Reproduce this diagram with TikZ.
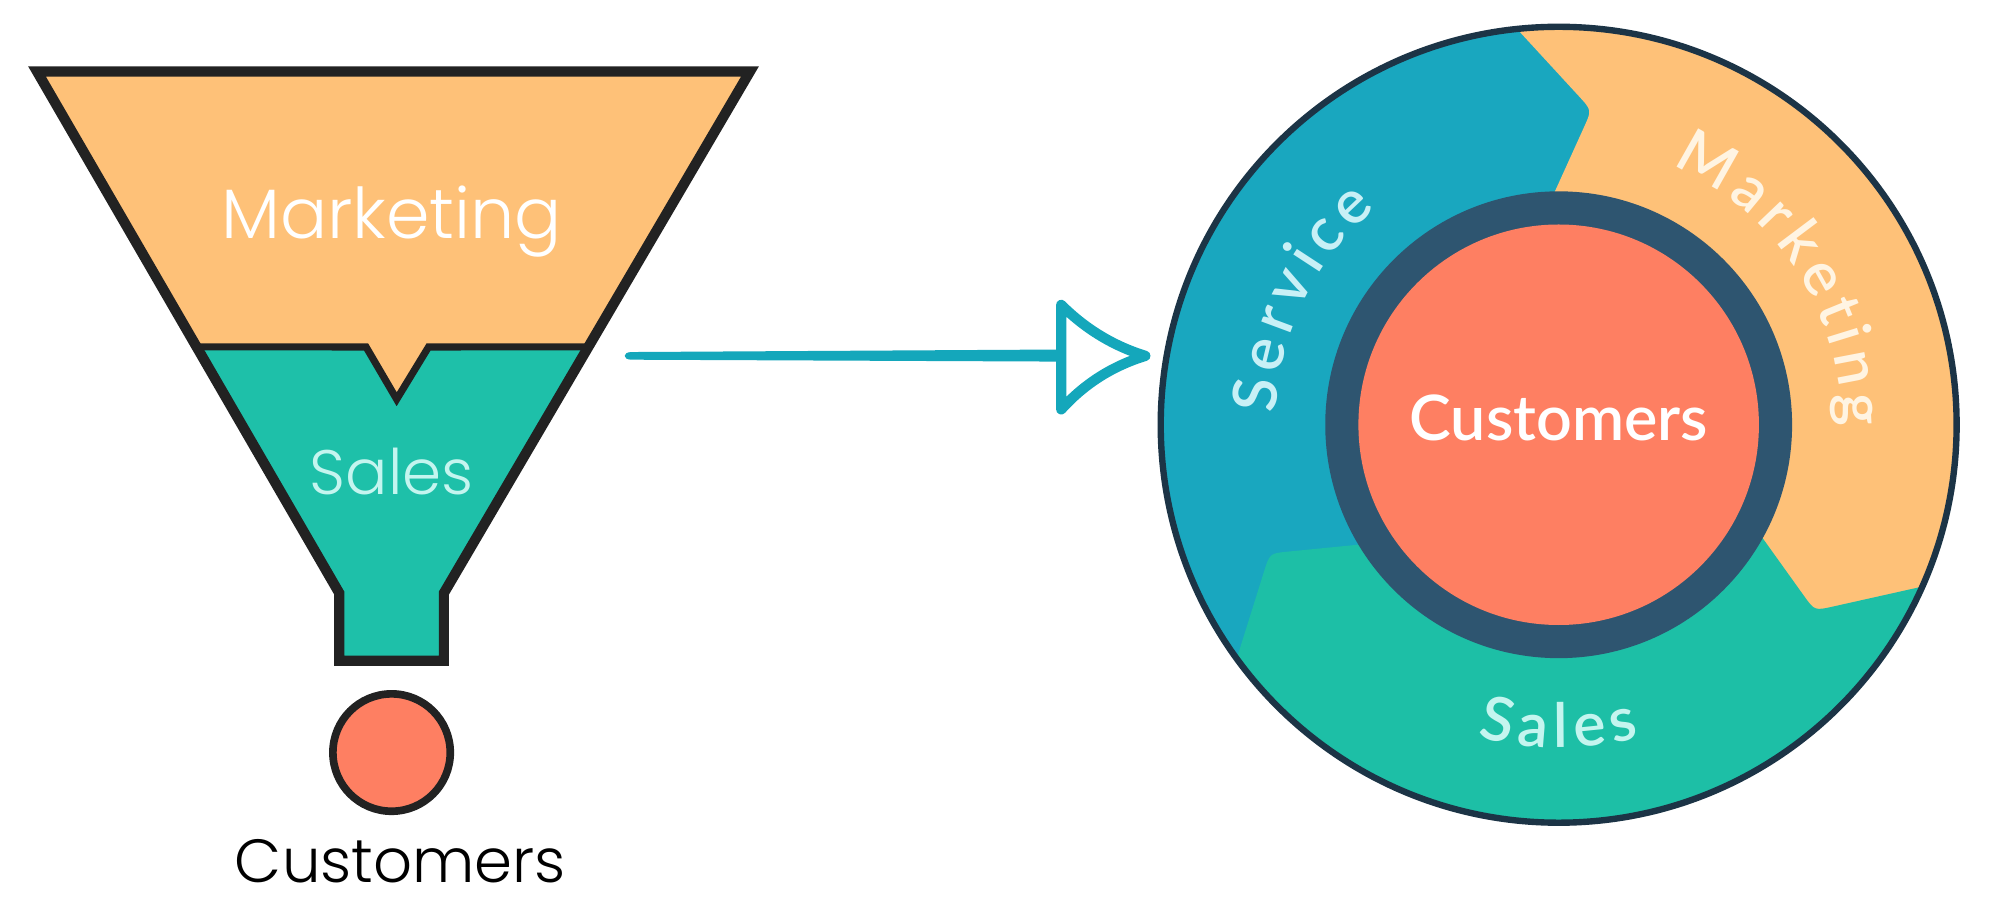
\documentclass[tikz,border=0pt]{standalone}
\usepackage{fontspec}
\usetikzlibrary{calc,decorations.text}
\IfFontExistsTF{Poppins Light}{\newfontfamily\thinfont{Poppins Light}}{\newfontfamily\thinfont{Poppins}}
\IfFontExistsTF{Lato Semibold}{\newfontfamily\medfont{Lato Semibold}}{%
  \IfFontExistsTF{Lato Medium}{\newfontfamily\medfont{Lato Medium}}{\newfontfamily\medfont{Lato}}}
\newcommand\flyfont{\medfont\fontsize{17}{20}\selectfont}
\newcommand\flysp{0.9pt}
\definecolor{mkt}{HTML}{FEC178}
\definecolor{fsales}{HTML}{1EC0A9}
\definecolor{salestxt}{HTML}{C4F5EF}
\definecolor{cust}{HTML}{FE7F62}
\definecolor{outl}{HTML}{222222}
\definecolor{svc}{HTML}{19A7BF}
\definecolor{gsales}{HTML}{1DBFA6}
\definecolor{ring}{HTML}{2E5570}
\definecolor{rim}{HTML}{1C3446}
\definecolor{arrowc}{HTML}{14A7BB}
\definecolor{svctxt}{HTML}{C8F0F6}
\definecolor{mkttxt}{HTML}{FFF4E2}
\begin{document}
\begin{tikzpicture}[x=0.0125cm,y=0.0125cm,
  funnelline/.style={draw=outl,line width=0.1cm,line join=miter},
  splitline/.style={draw=outl,line width=0.07cm},
  funneltext/.style={anchor=base,font=\thinfont\fontsize{19.5}{23}\selectfont},
  flytext/.style n args={2}{decorate,decoration={text effects along path,text={#2},text align=center,
    text effects/.cd,
    characters={transform shape,anchor=base,inner xsep=\flysp,inner ysep=0pt,text=#1,font=\flyfont},
    character widths={inner xsep=\flysp,inner ysep=0pt,font=\flyfont}}}]
\useasboundingbox (0,0) rectangle (1568,720);
\fill[white] (0,0) rectangle (1568,720);

% ---------- funnel ----------
\coordinate (TL) at (29,664);
\coordinate (TR) at (588,664);
\coordinate (SRt) at (348,255);
\coordinate (SRb) at (348,202);
\coordinate (SLb) at (266,202);
\coordinate (SLt) at (266,255);
\coordinate (BL) at ($(TL)!0.528!(SLt)$);
\coordinate (BR) at ($(TR)!0.528!(SRt)$);
\coordinate (N1) at (287,448);
\coordinate (N2) at (311,407);
\coordinate (N3) at (336,448);
\fill[fsales] (TL) -- (TR) -- (SRt) -- (SRb) -- (SLb) -- (SLt) -- cycle;
\fill[mkt] (TL) -- (TR) -- (BR) -- (N3) -- (N2) -- (N1) -- (BL) -- cycle;
\draw[splitline] (BL) -- (N1) -- (N2) -- (N3) -- (BR);
\draw[funnelline] (TL) -- (TR) -- (SRt) -- (SRb) -- (SLb) -- (SLt) -- cycle;
\node[funneltext,text=white] (fmkt) at (307,533) {Marketing};
\node[funneltext,text=salestxt,font=\thinfont\fontsize{17.5}{21}\selectfont] (fsal) at (307,332) {Sales};
\node[circle,minimum size=1.15cm,inner sep=0pt,fill=cust,draw=outl,line width=0.075cm] (dot) at (307,130) {};
\node[anchor=base,font=\thinfont\fontsize{17}{20}\selectfont,text=black] (fcust) at (314,28) {Customers};

% ---------- arrow ----------
\coordinate (tail) at (490,441);
\coordinate (back) at (834,441);
\coordinate (tip) at (898,441);
\fill[arrowc] ($(tail)+(5,3)$) -- ($(back)+(0,5)$) -- ($(back)+(0,-4.5)$) -- ($(tail)+(5,-3)$)
  .. controls ($(tail)+(-2,-3)$) and ($(tail)+(-2,3)$) .. cycle;
\draw[arrowc,line width=0.1cm,line join=round,line cap=round]
  ($(back)+(-2,40)$) .. controls ($(back)+(16,22)$) and ($(tip)+(-26,8)$) .. (tip)
  .. controls ($(tip)+(-26,-8)$) and ($(back)+(16,-22)$) .. ($(back)+(-2,-42)$) -- cycle;

% ---------- flywheel ----------
\coordinate (C) at (1222,387);
\coordinate (O1) at ($(C)+(96:312)$);
\coordinate (T1) at ($(C)+(84:248)$);
\coordinate (I1) at ($(C)+(92:176)$);
\coordinate (O2) at ($(C)+(-24:312)$);
\coordinate (T2) at ($(C)+(-36:248)$);
\coordinate (I2) at ($(C)+(-28:176)$);
\coordinate (O3) at ($(C)+(-144:312)$);
\coordinate (T3) at ($(C)+(-156:248)$);
\coordinate (I3) at ($(C)+(-148:176)$);
\fill[svc] (C) circle[radius=312];
\fill[mkt] (O1) arc[start angle=96,end angle=-60,radius=312]
  -- ($(C)+(-60:176)$) arc[start angle=-60,end angle=92,radius=176]
  -- ($(T1)!0.18!(I1)$) .. controls (T1) .. ($(T1)!0.18!(O1)$) -- cycle;
\fill[gsales] (O2) arc[start angle=-24,end angle=-144,radius=312]
  -- ($(T3)!0.18!(O3)$) .. controls (T3) .. ($(T3)!0.18!(I3)$)
  -- (I3) arc[start angle=-148,end angle=-28,radius=176]
  -- ($(T2)!0.18!(I2)$) .. controls (T2) .. ($(T2)!0.18!(O2)$) -- cycle;
\fill[ring] (C) circle[radius=183];
\fill[cust] (C) circle[radius=157];
\draw[rim,line width=0.0625cm] (C) circle[radius=312];
\node[anchor=base,text=white,font=\medfont\fontsize{17.5}{20}\selectfont] (ccust) at (1222,375) {Customers};
\path[flytext={svctxt}{Service}] ($(C)+(195:222)$) arc[start angle=195,end angle=113,radius=222];
\path[flytext={mkttxt}{Marketing}] ($(C)+(80:222)$) arc[start angle=80,end angle=-14,radius=222];
\path[flytext={salestxt}{Sales}] ($(C)+(-118:253)$) arc[start angle=-118,end angle=-62,radius=253];
\end{tikzpicture}
\end{document}
